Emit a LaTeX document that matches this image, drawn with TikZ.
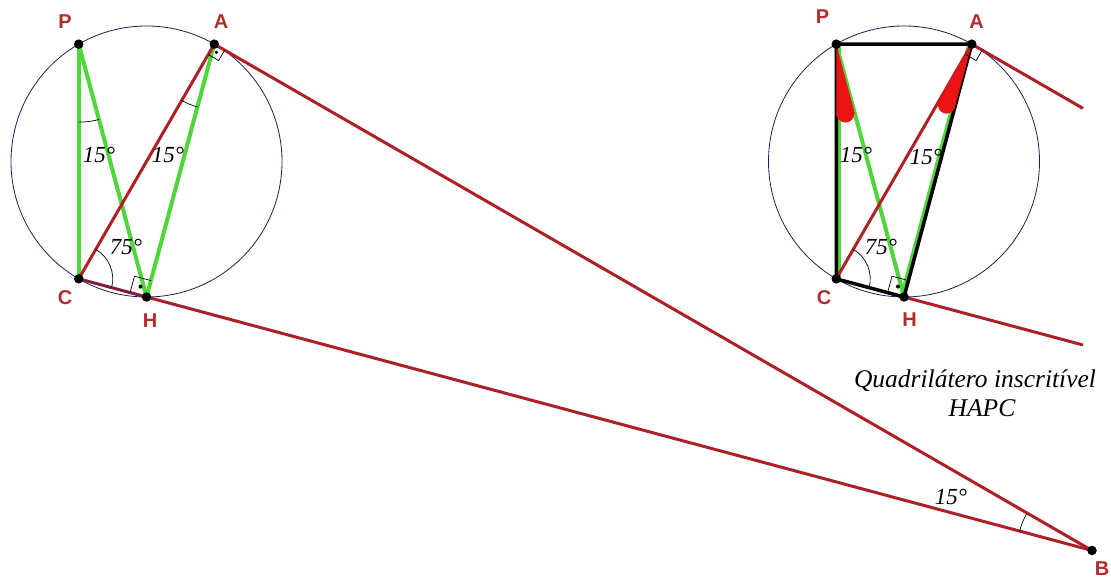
\documentclass[tikz,border=0pt]{standalone}
\usepackage{fontspec}
\setmainfont{Liberation Serif}
\newfontfamily\labfont{Liberation Sans}
\newfontfamily\serifit{Liberation Serif}
\usetikzlibrary{calc}
\definecolor{redline}{RGB}{172,32,38}
\definecolor{labred}{RGB}{178,44,44}
\definecolor{greenline}{RGB}{78,214,58}
\definecolor{circcol}{RGB}{30,30,90}
\definecolor{wedgecol}{RGB}{235,20,20}
\definecolor{maroonline}{RGB}{135,28,58}
\begin{document}
\begin{tikzpicture}[x=1pt,y=1pt,
  redseg/.style={draw=redline, line width=3pt},
  greenseg/.style={draw=greenline, line width=4pt},
  blackseg/.style={draw=black, line width=3.5pt, line join=round},
  circline/.style={draw=circcol, line width=0.8pt},
  anglemark/.style={draw=black, line width=0.7pt},
  ptdot/.style={circle, fill=black, inner sep=0pt, minimum size=9.5pt},
  ptlabel/.style={text=labred, font=\labfont\bfseries\fontsize{20}{20}\selectfont, inner sep=0pt},
  anglabel/.style={font=\serifit\itshape\fontsize{23}{23}\selectfont, inner sep=0pt},
  notelabel/.style={font=\serifit\itshape\fontsize{25.5}{28}\selectfont, inner sep=0pt, align=center},
]
\fill[white] (0,0) rectangle (1111,580);
\useasboundingbox (0,0) rectangle (1111,580);

% ---------- left figure ----------
\coordinate (O1) at (146.5,418.5);
\coordinate (P1) at (78.75,535.85);
\coordinate (A1) at (214.25,535.85);
\coordinate (C1) at (78.75,301.15);
\coordinate (H1) at (146.5,283);
\coordinate (B) at (1092,29.5);

\draw[circline] (O1) circle[radius=135.5pt];
\draw[greenseg] (P1) -- (C1);
\draw[greenseg] (P1) -- (H1);
\draw[greenseg] (A1) -- (H1);
\draw[redseg] (C1) -- (A1);
\draw[redseg] (A1) -- (B);
\draw[redseg] (H1) -- (B);
\draw[draw=maroonline, line width=3pt] (C1) -- (H1);

\draw[anglemark] ($(P1)+(270:78pt)$) arc[start angle=270, end angle=285, radius=78pt];
\draw[anglemark] ($(A1)+(240:65pt)$) arc[start angle=240, end angle=255, radius=65pt];
\draw[anglemark] ($(C1)+(-15:34pt)$) arc[start angle=-15, end angle=60, radius=34pt];
\draw[anglemark] ($(B)+(150:75pt)$) arc[start angle=150, end angle=165, radius=75pt];
\draw[anglemark] ($(H1)+(165:17pt)$) -- ($(H1)+(165:17pt)+(75:17pt)$) -- ($(H1)+(75:17pt)$);
\fill ($(H1)+(165:8.5pt)+(75:8.5pt)$) circle[radius=2pt];
\draw[anglemark] ($(A1)+(240:12pt)$) -- ($(A1)+(240:12pt)+(330:12pt)$) -- ($(A1)+(330:12pt)$);
\fill ($(A1)+(240:6pt)+(330:6pt)$) circle[radius=1.8pt];

% ---------- right figure ----------
\coordinate (O2) at (904,418.5);
\coordinate (P2) at (836.25,535.85);
\coordinate (A2) at (971.75,535.85);
\coordinate (C2) at (836.25,301.15);
\coordinate (H2) at (904,283);
\coordinate (E1) at (1083,471.6);
\coordinate (E2) at (1083,235);

\draw[circline] (O2) circle[radius=135.5pt];
\draw[greenseg] (P2) -- (H2);
\draw[greenseg] ([xshift=2.5pt]P2) -- ([xshift=2.5pt]C2);
\draw[greenseg] ([xshift=-2.5pt]A2) -- ([xshift=-2.5pt]H2);
\draw[redseg] (C2) -- (A2);
\draw[redseg] (A2) -- (E1);
\draw[redseg] (H2) -- (E2);
\draw[blackseg] (P2) -- (A2) -- (H2) -- (C2) -- cycle;
\fill[wedgecol] (P2) -- ($(P2)+(270:72pt)$) arc[start angle=270, end angle=285, radius=72pt] -- cycle;
\fill[wedgecol] ($(P2)+(277.5:70pt)$) circle[radius=9pt];
\fill[wedgecol] (A2) -- ($(A2)+(240:68pt)$) arc[start angle=240, end angle=255, radius=68pt] -- cycle;
\fill[wedgecol] ($(A2)+(247.5:66pt)$) circle[radius=8.5pt];
\draw[anglemark] ($(C2)+(-15:34pt)$) arc[start angle=-15, end angle=60, radius=34pt];
\draw[anglemark] ($(H2)+(165:17pt)$) -- ($(H2)+(165:17pt)+(75:17pt)$) -- ($(H2)+(75:17pt)$);
\fill ($(H2)+(165:8.5pt)+(75:8.5pt)$) circle[radius=2pt];
\draw[anglemark] ($(A2)+(240:12pt)$) -- ($(A2)+(240:12pt)+(330:12pt)$) -- ($(A2)+(330:12pt)$);

% ---------- points ----------
\foreach \p in {P1,A1,C1,H1,B,P2,A2,C2,H2} \node[ptdot] at (\p) {};

% ---------- labels ----------
\node[ptlabel] (lP1) at (65,558.5) {P};
\node[ptlabel] (lA1) at (221,558.5) {A};
\node[ptlabel] (lC1) at (65,282) {C};
\node[ptlabel] (lH1) at (150,259) {H};
\node[ptlabel] (lB) at (1102,11) {B};
\node[ptlabel] (lP2) at (822.5,563.5) {P};
\node[ptlabel] (lA2) at (976.5,558.5) {A};
\node[ptlabel] (lC2) at (824,282.5) {C};
\node[ptlabel] (lH2) at (909.5,260.5) {H};

\node[anglabel] (t1) at (99,425) {15°};
\node[anglabel] (t2) at (168,425) {15°};
\node[anglabel] (t3) at (126,333) {75°};
\node[anglabel] (t4) at (856,425) {15°};
\node[anglabel] (t5) at (926,423) {15°};
\node[anglabel] (t6) at (881,333) {75°};
\node[anglabel] (t7) at (951,83) {15°};
\node[notelabel] (q1) at (975,199) {Quadrilátero inscritível};
\node[notelabel] (q2) at (982,172) {HAPC};
\end{tikzpicture}
\end{document}
